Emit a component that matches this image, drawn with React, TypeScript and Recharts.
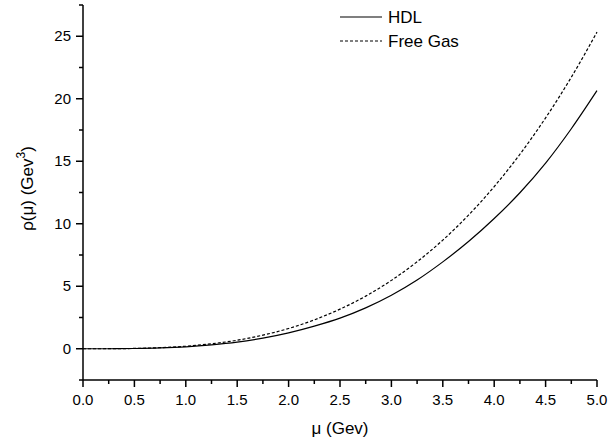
import React from "react";
import { LineChart, Line, XAxis, YAxis } from "recharts";

const hdlMu = [0, 0.25, 0.5, 0.75, 1.0, 1.25, 1.5, 1.75, 2.0, 2.25, 2.5, 2.75, 3.0, 3.25, 3.5, 3.75, 4.0, 4.25, 4.5, 4.75, 5.0];
const hdlRho = [0, 0.002, 0.02, 0.066, 0.155, 0.31, 0.53, 0.85, 1.27, 1.81, 2.45, 3.27, 4.28, 5.5, 6.95, 8.58, 10.42, 12.48, 14.85, 17.6, 20.65];

const gasMu = [0, 0.25, 0.5, 0.75, 1.0, 1.25, 1.5, 1.75, 2.0, 2.25, 2.5, 2.75, 3.0, 3.25, 3.5, 3.75, 4.0, 4.25, 4.5, 4.75, 5.0];
const gasRho = [0, 0.003, 0.025, 0.085, 0.2, 0.4, 0.68, 1.09, 1.62, 2.31, 3.17, 4.21, 5.47, 6.96, 8.69, 10.69, 12.97, 15.56, 18.47, 21.72, 25.33];

const xTicks = [0, 0.25, 0.5, 0.75, 1, 1.25, 1.5, 1.75, 2, 2.25, 2.5, 2.75, 3, 3.25, 3.5, 3.75, 4, 4.25, 4.5, 4.75, 5];
const yTicks = [-2.5, 0, 2.5, 5, 7.5, 10, 12.5, 15, 17.5, 20, 22.5, 25, 27.5];

const series = [
  { name: "HDL", dash: undefined as string | undefined },
  { name: "Free Gas", dash: "3 2" },
];

const hdlData = hdlMu.map((mu, i) => ({ mu, rho: hdlRho[i] }));
const gasData = gasMu.map((mu, i) => ({ mu, rho: gasRho[i] }));

const FONT = "'Liberation Sans', Arial, sans-serif";

function XTick(props: any) {
  const { x, y, payload } = props;
  const v = payload.value as number;
  const major = Math.abs(v * 2 - Math.round(v * 2)) < 1e-6;
  return (
    <g>
      <line x1={x} x2={x} y1={y} y2={y + (major ? 7 : 4)} stroke="#000" strokeWidth={1.5} />
      {major && (
        <text x={x} y={y + 25} textAnchor="middle" fontSize={15} fontFamily={FONT} fill="#000">
          {v.toFixed(1)}
        </text>
      )}
    </g>
  );
}

function YTick(props: any) {
  const { x, y, payload } = props;
  const v = payload.value as number;
  const major = Math.abs(v / 5 - Math.round(v / 5)) < 1e-6;
  return (
    <g>
      <line x1={x} x2={x - (major ? 7 : 4)} y1={y} y2={y} stroke="#000" strokeWidth={1.5} />
      {major && (
        <text x={x - 12} y={y + 5} textAnchor="end" fontSize={15} fontFamily={FONT} fill="#000">
          {v}
        </text>
      )}
    </g>
  );
}

function YLabel(props: any) {
  const { viewBox } = props;
  const cx = 33;
  const cy = viewBox.y + viewBox.height / 2 - 4;
  return (
    <text
      x={cx}
      y={cy}
      transform={`rotate(-90, ${cx}, ${cy})`}
      textAnchor="middle"
      fontSize={17}
      fontFamily={FONT}
      fill="#000"
    >
      ρ(μ) (Gev
      <tspan dy={-8} fontSize={12}>3</tspan>
      <tspan dy={8}>)</tspan>
    </text>
  );
}

export default function App() {
  return (
    <div style={{ position: "absolute", left: 0, top: 0, width: 608, height: 438, background: "#fff" }}>
      <LineChart width={608} height={438} margin={{ top: 5, right: 11, left: 0, bottom: 0 }}>
        <XAxis
          dataKey="mu"
          type="number"
          domain={[0, 5]}
          ticks={xTicks}
          interval={0}
          tickSize={0}
          tickMargin={0}
          height={58}
          stroke="#000"
          strokeWidth={1.5}
          tick={<XTick />}
          allowDuplicatedCategory={false}
          label={{ value: "μ (Gev)", position: "insideBottom", offset: 4, fontSize: 17, fontFamily: FONT, fill: "#000" }}
        />
        <YAxis
          type="number"
          domain={[-2.5, 27.5]}
          ticks={yTicks}
          interval={0}
          tickSize={0}
          tickMargin={0}
          width={83}
          stroke="#000"
          strokeWidth={1.5}
          tick={<YTick />}
          label={<YLabel />}
        />
        <Line data={hdlData} dataKey="rho" name={series[0].name} type="monotone" stroke="#000" strokeWidth={1.2} dot={false} isAnimationActive={false} />
        <Line data={gasData} dataKey="rho" name={series[1].name} type="monotone" stroke="#000" strokeWidth={1.2} strokeDasharray={series[1].dash} dot={false} isAnimationActive={false} />
      </LineChart>
      <svg style={{ position: "absolute", left: 330, top: 4 }} width={160} height={50}>
        {series.map((s, i) => (
          <g key={s.name}>
            <line x1={10} x2={52} y1={13 + i * 24} y2={13 + i * 24} stroke="#000" strokeWidth={1.2} strokeDasharray={s.dash} />
            <text x={58} y={19 + i * 24} fontSize={17} fontFamily={FONT} fill="#000">
              {s.name}
            </text>
          </g>
        ))}
      </svg>
    </div>
  );
}
